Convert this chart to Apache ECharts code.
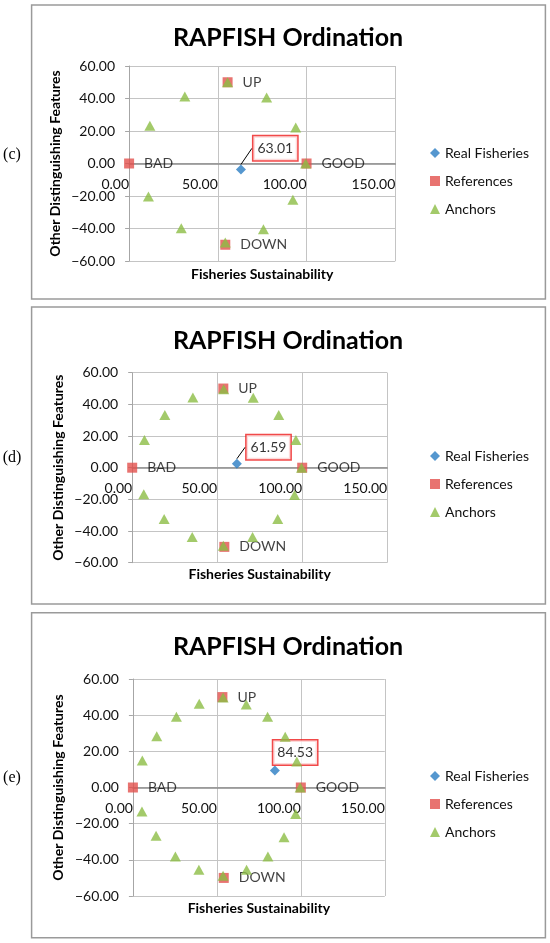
<!DOCTYPE html>
<html>
<head>
<meta charset="utf-8">
<script src="https://cdn.jsdelivr.net/npm/echarts@6/dist/echarts.min.js"></script>
<style>
  body { margin: 0; background: #fff; }
  .panel { position: absolute; left: 0; width: 550px; }
</style>
</head>
<body>
<div id="pc" class="panel" style="top:0;height:303px"></div>
<div id="pd" class="panel" style="top:303px;height:305px"></div>
<div id="pe" class="panel" style="top:608px;height:335px"></div>

<script type="text/javascript">
// axis ranges [min, max, interval]
var xRange = [0, 150, 50];
var yRange = [-60, 60, 20];

var seriesNames = ['Real Fisheries', 'References', 'Anchors'];
var refNames = ['BAD', 'GOOD', 'UP', 'DOWN'];
var panelLabels = ['(c)', '(d)', '(e)'];

// panel (c)
var realC = [[63.01, -3.7]];
var refsC = [[0, 0], [100, 0], [55.5, 50], [54.2, -50]];
var anchorsC = [
  [55.5, 50], [31.4, 41.2], [77.5, 40.6], [11.7, 23.2], [93.9, 22.2], [99.5, 0],
  [10.9, -20.3], [92.3, -22.3], [29.4, -39.8], [75.7, -40.4], [54.2, -48.6]
];

// panel (d)
var realD = [[61.59, 2.5]];
var refsD = [[0, 0], [100, 0], [53.6, 50], [54.2, -50]];
var anchorsD = [
  [53.8, 49.5], [35.7, 44.4], [71.2, 44.2], [19.2, 33.3], [86.2, 33.3], [7.2, 17.5],
  [96.3, 17.5], [99.6, 0], [6.8, -16.8], [95.5, -17.3], [18.8, -32.4], [85.6, -32.4],
  [35.3, -43.8], [70.8, -43.8], [53.6, -49.3]
];

// panel (e)
var realE = [[84.53, 9.4]];
var refsE = [[0, 0], [100, 0], [53.3, 50], [54.1, -50]];
var anchorsE = [
  [53.7, 49.8], [39.5, 46.3], [67.5, 45.9], [25.9, 39.1], [80.2, 39.1], [14.2, 28.4],
  [90.7, 28.0], [5.6, 14.9], [97.6, 14.4], [99.6, 0], [5.4, -13.3], [96.9, -14.6],
  [13.8, -26.7], [90.0, -27.5], [25.3, -38.2], [80.4, -38.2], [39.3, -45.5],
  [67.7, -45.5], [53.7, -48.8]
];

var FONT = 'Lato, "Open Sans", sans-serif';

function fmt(v) {
  return v < 0 ? '\u2212' + Math.abs(v).toFixed(2) : v.toFixed(2);
}

function buildPanel(domId, label, real, refs, anchors, lay) {
  var option = {
    animation: false,
    title: {
      text: 'RAPFISH Ordination',
      left: 283, top: lay.titleTop, textAlign: 'center',
      textStyle: { fontFamily: FONT, fontSize: 25, fontWeight: 'bold', color: '#000' }
    },
    legend: {
      orient: 'vertical', left: 425, top: lay.legendTop,
      itemWidth: 10, itemHeight: 10, itemGap: 12,
      textStyle: { fontFamily: FONT, fontSize: 14, color: '#111', lineHeight: 16 },
      data: [
        { name: seriesNames[0], icon: 'diamond' },
        { name: seriesNames[1], icon: 'rect' },
        { name: seriesNames[2], icon: 'triangle' }
      ]
    },
    graphic: [
      { type: 'rect', shape: { x: 31.6, y: lay.boxTop, width: 513.8, height: lay.boxH },
        style: { fill: 'none', stroke: '#9a9a9a', lineWidth: 1.5 } },
      { type: 'text', x: 12, y: lay.labelY,
        style: { text: label, fontFamily: '"Liberation Serif", serif', fontSize: 16,
                 fill: '#000', textAlign: 'center', textVerticalAlign: 'middle' } }
    ],
    grid: { left: lay.left, top: lay.top, width: lay.width, height: lay.height,
            outerBoundsMode: 'none', containLabel: false },
    xAxis: {
      type: 'value', min: xRange[0], max: xRange[1], interval: xRange[2],
      // x axis crosses at y = 0, which is the middle of the symmetric y range
      offset: -lay.height / 2,
      name: 'Fisheries Sustainability', nameLocation: 'middle', nameGap: lay.xNameGap,
      nameTextStyle: { fontFamily: FONT, fontSize: 14, fontWeight: 'bold', color: '#000' },
      axisLine: { onZero: false, lineStyle: { color: '#8c8c8c', width: 1.5 } },
      axisTick: { show: false },
      axisLabel: { formatter: fmt, align: 'right', margin: 14,
                   fontFamily: FONT, fontSize: 14, color: '#111' },
      splitLine: { lineStyle: { color: '#c4c4c4' } }
    },
    yAxis: {
      type: 'value', min: yRange[0], max: yRange[1], interval: yRange[2],
      name: 'Other Distinguishing Features', nameLocation: 'middle', nameGap: 67,
      nameTextStyle: { fontFamily: FONT, fontSize: 14, fontWeight: 'bold', color: '#000' },
      axisLine: { show: true, onZero: false, lineStyle: { color: '#a6a6a6' } },
      axisTick: { show: true, length: 4, lineStyle: { color: '#a6a6a6' } },
      axisLabel: { formatter: fmt, margin: 14, fontFamily: FONT, fontSize: 14, color: '#111' },
      splitLine: { lineStyle: { color: '#c4c4c4' } }
    },
    series: [
      {
        name: seriesNames[1], type: 'scatter', symbol: 'rect', symbolSize: 10,
        itemStyle: { color: '#e2504c' },
        label: {
          show: true, position: 'right', distance: 10,
          fontFamily: FONT, fontSize: 14, color: '#111',
          formatter: function (p) { return refNames[p.dataIndex]; }
        },
        data: refs
      },
      {
        name: seriesNames[2], type: 'scatter', symbol: 'triangle', symbolSize: [11, 10], z: 3,
        itemStyle: { color: '#8cbd45' },
        data: anchors
      },
      {
        name: seriesNames[0], type: 'scatter', symbol: 'diamond', symbolSize: 10,
        itemStyle: { color: '#2b7dc3' },
        label: {
          show: true, position: 'inside',
          fontFamily: FONT, fontSize: 14, color: '#000', lineHeight: 16,
          backgroundColor: '#fff', borderColor: '#ee1c1c', borderWidth: 1.5, padding: [4, 4],
          formatter: function (p) { return p.value[0].toFixed(2); }
        },
        labelLayout: { dx: lay.dx, dy: lay.dy },
        labelLine: { show: lay.line, lineStyle: { color: '#000', width: 1 } },
        data: real
      }
    ]
  };
  var chart = echarts.init(document.getElementById(domId));
  chart.setOption(option);
  return chart;
}

buildPanel('pc', panelLabels[0], realC, refsC, anchorsC, {
  boxTop: 5, boxH: 294, titleTop: 20, legendTop: 140, labelY: 155,
  left: 129.1, top: 66, width: 266.2, height: 195, xNameGap: 104,
  dx: 34.4, dy: -21.2, line: true
});
buildPanel('pd', panelLabels[1], realD, refsD, anchorsD, {
  boxTop: 4, boxH: 297, titleTop: 20, legendTop: 140, labelY: 155,
  left: 132.2, top: 69.7, width: 255, height: 190, xNameGap: 100,
  dx: 31.6, dy: -16.5, line: true
});
buildPanel('pe', panelLabels[2], realE, refsE, anchorsE, {
  boxTop: 4.7, boxH: 325, titleTop: 21, legendTop: 155, labelY: 170,
  left: 132.9, top: 71, width: 251.9, height: 217, xNameGap: 114,
  dx: 20.3, dy: -18.1, line: false
});
</script>
</body>
</html>
